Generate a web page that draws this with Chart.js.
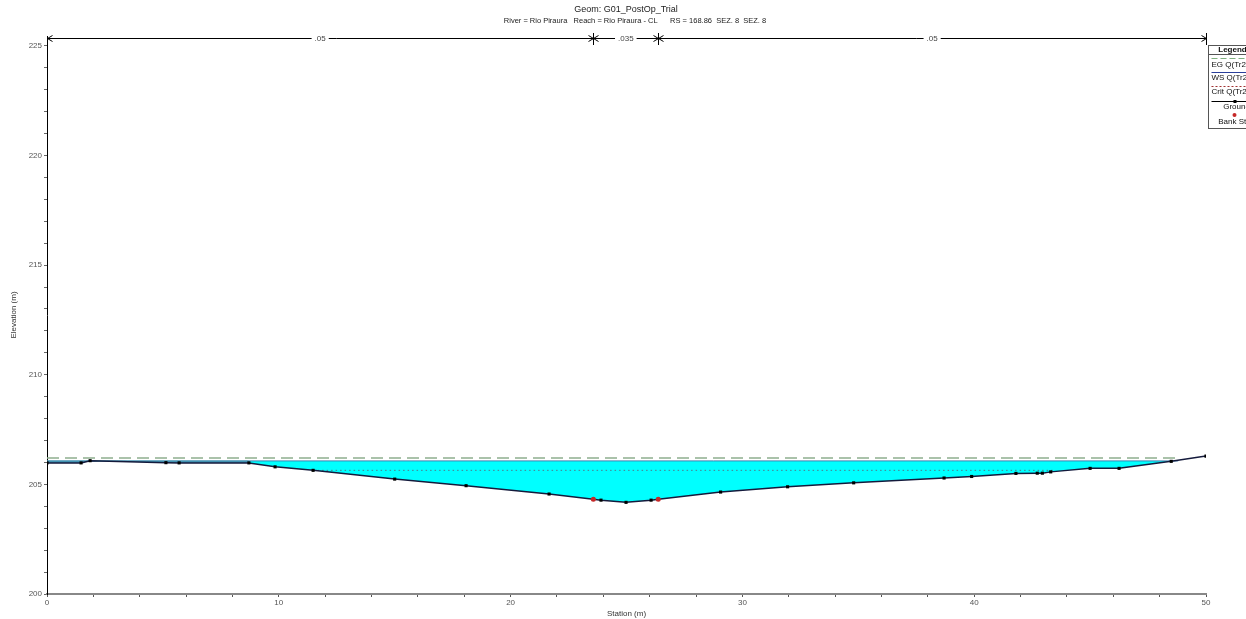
<!DOCTYPE html>
<html>
<head>
<meta charset="utf-8">
<script src="https://cdn.jsdelivr.net/npm/chart.js@4.4.1/dist/chart.umd.min.js"></script>
<style>
  body { margin: 0; background: #fff; }
  #wrap { width: 1246px; height: 619px; }
</style>
</head>
<body>
<div id="wrap"><canvas id="xs"></canvas></div>
<script>
// ground survey points (station m, elevation m)
const groundSta = [0, 1.47, 1.86, 5.13, 5.7, 8.71, 9.84, 11.48, 15.0, 18.08, 21.66, 23.57, 23.9, 24.98,
    26.06, 26.37, 29.06, 31.95, 34.8, 38.7, 39.89, 41.8, 42.72, 42.94, 43.3, 45.0, 46.25, 48.5, 50.0];
const groundElev = [205.98, 205.98, 206.08, 205.99, 205.98, 205.98, 205.8, 205.64, 205.24, 204.94, 204.56, 204.32, 204.28, 204.18,
    204.28, 204.32, 204.65, 204.89, 205.07, 205.29, 205.36, 205.5, 205.51, 205.51, 205.57, 205.73, 205.73, 206.05, 206.29];

const bankSta = [23.57, 26.37];
const bankElev = [204.32, 204.32];

// water surface: ineffective part on the left, then the active flow
const wsLeftSta = [0, 8.71];
const wsMainSta = [8.71, 48.8];
const wsElev = 206.07;
const egSta = [0, 48.88];
const egElev = 206.2;
const critSta = [11.48, 43.4];
const critElev = 205.64;

// manning's n
const nBreaks = [0, 23.57, 26.37, 50];
const nValues = ['.05', '.035', '.05'];

const xMajor = [0, 10, 20, 30, 40, 50];
const yMajor = [200, 205, 210, 215, 220, 225];

const titleLine1 = 'Geom: G01_PostOp_Trial';
const titleLine2 = 'River = Rio Piraura   Reach = Rio Piraura - CL      RS = 168.86  SEZ. 8  SEZ. 8';

const FONT = '"Liberation Sans", Arial, sans-serif';

function pts(xs, ys) {
    return xs.map((x, i) => ({ x: x, y: Array.isArray(ys) ? ys[i] : ys }));
}

const extras = {
    id: 'extras',
    afterDraw(chart) {
        const ctx = chart.ctx;
        const xs = chart.scales.x;
        ctx.save();

        // titles
        ctx.fillStyle = '#222';
        ctx.textAlign = 'center';
        ctx.textBaseline = 'middle';
        ctx.font = '9px ' + FONT;
        ctx.fillText(titleLine1, 626, 10);
        ctx.font = '7.5px ' + FONT;
        ctx.fillText(titleLine2, 635, 21);

        // manning's n bar
        const yb = 38;
        const bx0 = xs.getPixelForValue(nBreaks[0]);
        const bx1 = xs.getPixelForValue(nBreaks[nBreaks.length - 1]);
        ctx.strokeStyle = '#000';
        ctx.lineWidth = 1;
        ctx.beginPath();
        ctx.moveTo(bx0, yb + 0.5);
        ctx.lineTo(bx1, yb + 0.5);
        ctx.stroke();
        nBreaks.forEach((b, i) => {
            const px = Math.round(xs.getPixelForValue(b)) + 0.5;
            ctx.beginPath();
            if (i > 0) {
                ctx.moveTo(px, yb - 5);
                ctx.lineTo(px, yb + 7);
                ctx.moveTo(px - 5, yb - 2.5);
                ctx.lineTo(px, yb + 0.5);
                ctx.lineTo(px - 5, yb + 3.5);
            }
            if (i < nBreaks.length - 1) {
                ctx.moveTo(px + 5, yb - 2.5);
                ctx.lineTo(px, yb + 0.5);
                ctx.lineTo(px + 5, yb + 3.5);
            }
            ctx.stroke();
        });
        ctx.font = '8px ' + FONT;
        nValues.forEach((v, i) => {
            const mid = xs.getPixelForValue((nBreaks[i] + nBreaks[i + 1]) / 2);
            const w = ctx.measureText(v).width + 6;
            ctx.fillStyle = '#fff';
            ctx.fillRect(mid - w / 2, yb - 4, w, 9);
            ctx.fillStyle = '#444';
            ctx.fillText(v, mid, yb + 1);
        });

        // legend box (runs off the right edge like the original)
        const lx = 1208.5, ly = 45.5, lw = 56, lh = 83;
        ctx.fillStyle = '#fff';
        ctx.fillRect(lx, ly, lw, lh);
        ctx.strokeStyle = '#555';
        ctx.strokeRect(lx, ly, lw, lh);
        ctx.beginPath();
        ctx.moveTo(lx, ly + 9);
        ctx.lineTo(lx + lw, ly + 9);
        ctx.stroke();
        ctx.fillStyle = '#111';
        ctx.font = 'bold 8px ' + FONT;
        ctx.fillText('Legend', lx + lw / 2 - 4, ly + 4.5);

        ctx.font = '8px ' + FONT;
        ctx.textAlign = 'left';
        // EG
        ctx.strokeStyle = '#7fb07f';
        ctx.setLineDash([6, 3]);
        ctx.beginPath(); ctx.moveTo(lx + 3, 58.5); ctx.lineTo(lx + lw, 58.5); ctx.stroke();
        ctx.fillText('EG Q(Tr200)', lx + 3, 65);
        // WS
        ctx.setLineDash([]);
        ctx.strokeStyle = '#2a3f9a';
        ctx.beginPath(); ctx.moveTo(lx + 3, 72.5); ctx.lineTo(lx + lw, 72.5); ctx.stroke();
        ctx.fillText('WS Q(Tr200)', lx + 3, 78);
        // Crit
        ctx.strokeStyle = '#a03030';
        ctx.setLineDash([2, 2]);
        ctx.beginPath(); ctx.moveTo(lx + 3, 86.5); ctx.lineTo(lx + lw, 86.5); ctx.stroke();
        ctx.fillText('Crit Q(Tr200)', lx + 3, 92);
        // Ground
        ctx.setLineDash([]);
        ctx.strokeStyle = '#000';
        ctx.beginPath(); ctx.moveTo(lx + 3, 101.5); ctx.lineTo(lx + lw, 101.5); ctx.stroke();
        ctx.fillStyle = '#000';
        ctx.fillRect(lx + 25, 100, 3, 3);
        ctx.fillStyle = '#111';
        ctx.textAlign = 'center';
        ctx.fillText('Ground', lx + 28, 107);
        // Bank
        ctx.fillStyle = '#c62828';
        ctx.beginPath(); ctx.arc(lx + 26, 115, 2, 0, Math.PI * 2); ctx.fill();
        ctx.fillStyle = '#111';
        ctx.fillText('Bank Sta', lx + 26, 122);

        ctx.restore();
    }
};

const ctx = document.getElementById('xs').getContext('2d');
new Chart(ctx, {
    type: 'scatter',
    data: {
        datasets: [
            {
                label: 'Bank Sta',
                data: pts(bankSta, bankElev),
                pointStyle: 'circle',
                pointRadius: 2.5,
                pointBackgroundColor: '#c62828',
                pointBorderWidth: 0,
                showLine: false
            },
            {
                label: 'Ground',
                data: pts(groundSta, groundElev),
                showLine: true,
                borderColor: '#141a3c',
                borderWidth: 1.5,
                pointStyle: 'rect',
                pointRadius: 2.2,
                pointBackgroundColor: '#000',
                pointBorderWidth: 0,
                fill: false
            },
            {
                label: 'EG Q(Tr200)',
                data: pts(egSta, egElev),
                showLine: true,
                borderColor: '#8fae8f',
                borderWidth: 1.5,
                borderDash: [12, 6],
                pointRadius: 0,
                fill: false
            },
            {
                label: 'Crit Q(Tr200)',
                data: pts(critSta, critElev),
                showLine: true,
                borderColor: '#4d7a8a',
                borderWidth: 1,
                borderDash: [1.5, 3],
                pointRadius: 0,
                fill: false
            },
            {
                label: 'WS Q(Tr200)',
                data: pts(wsLeftSta, wsElev),
                showLine: true,
                borderColor: '#3f8fb0',
                borderWidth: 1.5,
                pointRadius: 0,
                backgroundColor: '#4696b4',
                fill: { target: 1, above: '#4696b4', below: 'rgba(0,0,0,0)' }
            },
            {
                label: 'WS Q(Tr200) main',
                data: pts(wsMainSta, wsElev),
                showLine: true,
                borderColor: '#3c7fb0',
                borderWidth: 1,
                pointRadius: 0,
                backgroundColor: '#00ffff',
                fill: { target: 1, above: '#00ffff', below: 'rgba(0,0,0,0)' }
            }
        ]
    },
    options: {
        responsive: true,
        maintainAspectRatio: false,
        animation: false,
        layout: { padding: { left: 0, right: 40, top: 36, bottom: 0 } },
        plugins: {
            legend: { display: false },
            tooltip: { enabled: false }
        },
        scales: {
            x: {
                type: 'linear',
                min: 0,
                max: 50,
                afterBuildTicks: s => {
                    const t = [];
                    for (let v = 0; v <= 50; v += 2) t.push({ value: v });
                    s.ticks = t;
                },
                afterFit: s => { s.height = 25; },
                ticks: {
                    autoSkip: false,
                    maxRotation: 0,
                    padding: 1,
                    color: '#555',
                    font: { size: 8, family: FONT },
                    callback: v => xMajor.includes(v) ? String(v) : ''
                },
                grid: { drawOnChartArea: false, tickLength: 3, color: '#555' },
                border: { color: '#888', width: 2 },
                title: {
                    display: true,
                    text: 'Station (m)',
                    color: '#333',
                    font: { size: 8, family: FONT },
                    padding: { top: 0, bottom: 0 }
                }
            },
            y: {
                type: 'linear',
                min: 200,
                max: 225.45,
                afterBuildTicks: s => {
                    const t = [];
                    for (let v = 200; v <= 225; v += 1) t.push({ value: v });
                    s.ticks = t;
                },
                afterFit: s => { s.width = 47; },
                ticks: {
                    autoSkip: false,
                    padding: 2,
                    color: '#555',
                    font: { size: 8, family: FONT },
                    callback: v => yMajor.includes(v) ? String(v) : ''
                },
                grid: { drawOnChartArea: false, tickLength: 3, color: '#666' },
                border: { color: '#000', width: 1 },
                title: {
                    display: true,
                    text: 'Elevation (m)',
                    color: '#333',
                    font: { size: 8, family: FONT },
                    padding: { top: 9, bottom: 0 }
                }
            }
        }
    },
    plugins: [extras]
});
</script>
</body>
</html>
